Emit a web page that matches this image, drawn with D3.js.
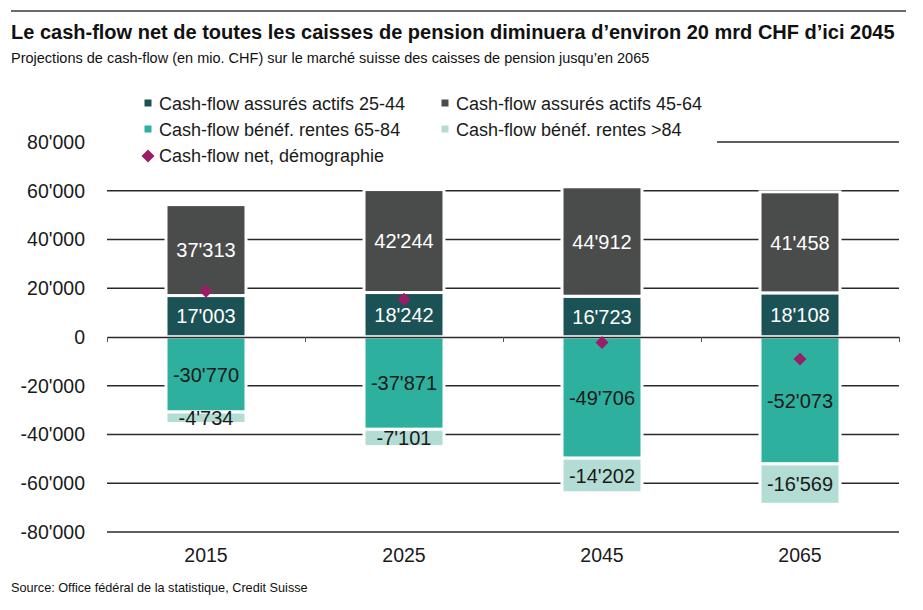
<!DOCTYPE html>
<html>
<head>
<meta charset="utf-8">
<script src="https://cdn.jsdelivr.net/npm/d3@7"></script>
<style>
  body { margin: 0; background: #fff; }
  svg { font-family: "Liberation Sans", Arial, Helvetica, sans-serif; }
</style>
</head>
<body>
<svg id="chart"></svg>
<script>
// data
const years = ['2015', '2025', '2045', '2065'];
const actifs2544 = [17003, 18242, 16723, 18108];
const actifs4564 = [37313, 42244, 44912, 41458];
const rentes6584 = [-30770, -37871, -49706, -52073];
const rentes84 = [-4734, -7101, -14202, -16569];
const netDemo = [18812, 15514, -2273, -9076];
const yTicks = [-80000, -60000, -40000, -20000, 0, 20000, 40000, 60000, 80000];

const W = 923, H = 610;
const svg = d3.select('#chart').attr('width', W).attr('height', H);

const fmt = d3.formatLocale({ decimal: '.', thousands: "'", grouping: [3], currency: ['', ''] }).format(',d');
const fmtLabel = v => fmt(v).replace('−', '-');

const x = d3.scaleBand()
  .domain(years)
  .range([107, 899])
  .paddingInner(0.596)
  .paddingOuter(0.298);

const y = d3.scaleLinear()
  .domain([-80000, 80000])
  .range([532, 142]);

// top rule + titles
svg.append('line')
  .attr('x1', 11).attr('x2', 906).attr('y1', 11).attr('y2', 11)
  .attr('stroke', '#3a3a3a').attr('stroke-width', 1.5);

svg.append('text')
  .attr('x', 11).attr('y', 39)
  .attr('font-size', 20).attr('font-weight', 'bold').attr('fill', '#111')
  .text('Le cash-flow net de toutes les caisses de pension diminuera d’environ 20 mrd CHF d’ici 2045');

svg.append('text')
  .attr('x', 11).attr('y', 63)
  .attr('font-size', 14.5).attr('fill', '#111')
  .text('Projections de cash-flow (en mio. CHF) sur le marché suisse des caisses de pension jusqu’en 2065');

// gridlines
svg.append('g')
  .selectAll('line')
  .data(yTicks.filter(d => d !== 0))
  .enter()
  .append('line')
  .attr('x1', 107).attr('x2', 899)
  .attr('y1', d => y(d)).attr('y2', d => y(d))
  .attr('stroke', '#2a2a2a').attr('stroke-width', 1.3);

// y labels
const yAxis = d3.axisLeft(y).tickValues(yTicks).tickSize(0).tickPadding(0).tickFormat(fmtLabel);
const gy = svg.append('g')
  .attr('transform', 'translate(85,0)')
  .call(yAxis);
gy.select('.domain').remove();
gy.selectAll('text')
  .attr('font-family', '"Liberation Sans", Arial, sans-serif')
  .attr('font-size', 19.5).attr('fill', '#1a1a1a');

// stacked segments
const series = [
  { name: 'Cash-flow assurés actifs 25-44', values: actifs2544, color: '#1b5256', text: '#fff' },
  { name: 'Cash-flow assurés actifs 45-64', values: actifs4564, color: '#4a4b4b', text: '#fff' },
  { name: 'Cash-flow bénéf. rentes 65-84', values: rentes6584, color: '#2db09e', text: '#1a1a1a' },
  { name: 'Cash-flow bénéf. rentes >84', values: rentes84, color: '#b3ddd4', text: '#1a1a1a' }
];

const segs = [];
years.forEach((yr, i) => {
  let pos = 0, neg = 0;
  series.forEach(s => {
    const v = s.values[i];
    let y0, y1;
    if (v >= 0) { y0 = pos; y1 = pos + v; pos = y1; }
    else { y0 = neg; y1 = neg + v; neg = y1; }
    segs.push({ year: yr, v, y0, y1, color: s.color, text: s.text });
  });
});

const barG = svg.append('g');
barG.selectAll('rect')
  .data(segs)
  .enter()
  .append('rect')
  .attr('x', d => x(d.year))
  .attr('width', x.bandwidth())
  .attr('y', d => y(Math.max(d.y0, d.y1)))
  .attr('height', d => Math.abs(y(d.y0) - y(d.y1)))
  .attr('fill', d => d.color)
  .attr('stroke', '#fff')
  .attr('stroke-width', 3);

// zero axis with boundary ticks
const xb = d3.scaleLinear().domain([0, years.length]).range([107, 899]);
const gx0 = svg.append('g')
  .attr('transform', `translate(0,${y(0)})`)
  .call(d3.axisBottom(xb).ticks(years.length).tickSize(5).tickSizeOuter(0).tickFormat(''));
gx0.select('.domain').attr('stroke', '#2a2a2a').attr('stroke-width', 1.3);
gx0.selectAll('.tick line').attr('stroke', '#555').attr('stroke-width', 1);

// segment labels
barG.selectAll('text')
  .data(segs)
  .enter()
  .append('text')
  .attr('x', d => x(d.year) + x.bandwidth() / 2)
  .attr('y', d => y((d.y0 + d.y1) / 2))
  .attr('dy', '0.36em')
  .attr('text-anchor', 'middle')
  .attr('font-size', 20)
  .attr('fill', d => d.text)
  .text(d => fmtLabel(d.v));

// net diamonds
const diamond = d3.symbol().type(d3.symbolSquare).size(84);
svg.append('g')
  .selectAll('path')
  .data(netDemo)
  .enter()
  .append('path')
  .attr('d', diamond)
  .attr('transform', (d, i) => `translate(${x(years[i]) + x.bandwidth() / 2},${y(d)}) rotate(45)`)
  .attr('fill', '#9b1d68');

// x labels
const gx = svg.append('g')
  .attr('transform', 'translate(0,548)')
  .call(d3.axisBottom(x).tickSize(0).tickPadding(0));
gx.select('.domain').remove();
gx.selectAll('text')
  .attr('font-family', '"Liberation Sans", Arial, sans-serif')
  .attr('font-size', 19.5).attr('fill', '#1a1a1a');

// legend
svg.append('rect')
  .attr('x', 100).attr('y', 84).attr('width', 617).attr('height', 90)
  .attr('fill', '#fff');

const legendItems = [
  { s: series[0], col: 0, row: 0 },
  { s: series[1], col: 1, row: 0 },
  { s: series[2], col: 0, row: 1 },
  { s: series[3], col: 1, row: 1 }
];
const colX = [148, 445];
const rowY = [110, 136, 162];

const lg = svg.append('g');
legendItems.forEach(it => {
  lg.append('rect')
    .attr('x', colX[it.col] - 3.5).attr('y', rowY[it.row] - 10.5)
    .attr('width', 7).attr('height', 7)
    .attr('fill', it.s.color);
  lg.append('text')
    .attr('x', colX[it.col] + 11).attr('y', rowY[it.row])
    .attr('font-size', 18).attr('fill', '#1a1a1a')
    .text(it.s.name);
});
lg.append('path')
  .attr('d', diamond)
  .attr('transform', `translate(${colX[0]},${rowY[2] - 6}) rotate(45)`)
  .attr('fill', '#9b1d68');
lg.append('text')
  .attr('x', colX[0] + 11).attr('y', rowY[2])
  .attr('font-size', 18).attr('fill', '#1a1a1a')
  .text('Cash-flow net, démographie');

// source
svg.append('text')
  .attr('x', 11).attr('y', 592)
  .attr('font-size', 12.7).attr('fill', '#111')
  .text('Source: Office fédéral de la statistique, Credit Suisse');
</script>
</body>
</html>
